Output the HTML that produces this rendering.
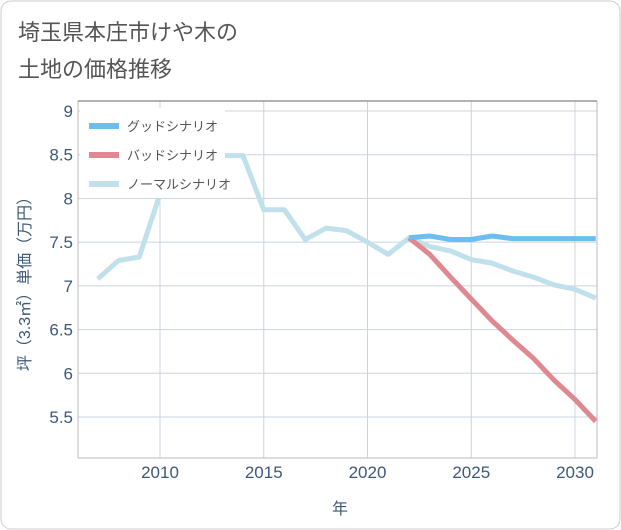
<!DOCTYPE html>
<html><head><meta charset="utf-8"><style>
body{margin:0;background:#fff;}
svg{display:block;font-family:"Liberation Sans","Noto Sans CJK JP",sans-serif;}
</style></head><body>
<svg width="621" height="530">
<rect x="1" y="1" width="619" height="528" rx="10" fill="#fff" stroke="#ccc"/>
<text x="18" y="40" font-size="22" fill="#555">埼玉県本庄市けや木の</text>
<text x="18" y="77" font-size="22" fill="#555">土地の価格推移</text>
<g id="grid"></g>
<g id="series"></g>
<g id="legend"></g>
<text x="340" y="514" font-size="16" fill="#3e5877" text-anchor="middle">年</text>
<text transform="translate(30,280) rotate(-90)" font-size="16" fill="#3e5877" text-anchor="middle">坪（3.3㎡）単価（万円）</text>
</svg>
<script>
const years=[2007,2008,2009,2010,2011,2012,2013,2014,2015,2016,2017,2018,2019,2020,2021,2022,2023,2024,2025,2026,2027,2028,2029,2030,2031];
const normalVals=[7.08,7.29,7.33,8.05,8.6,8.9,8.49,8.49,7.87,7.87,7.53,7.66,7.63,7.5,7.36,7.55,7.45,7.4,7.3,7.26,7.17,7.1,7.01,6.96,6.86];
const futureYears=[2022,2023,2024,2025,2026,2027,2028,2029,2030,2031];
const goodVals=[7.55,7.57,7.53,7.53,7.57,7.54,7.54,7.54,7.54,7.54];
const badVals=[7.55,7.36,7.1,6.85,6.6,6.38,6.17,5.92,5.7,5.45];
const yTicks=[5.5,6,6.5,7,7.5,8,8.5,9];
const xTicks=[2010,2015,2020,2025,2030];
const NS="http://www.w3.org/2000/svg";
const L=78,R=597,T=101,B=458;
const xs_=v=>160+(v-2010)*20.75;
const ys_=v=>111+(9-v)*87.43;
function mk(tag,attrs,parent){const e=document.createElementNS(NS,tag);for(const k in attrs)e.setAttribute(k,attrs[k]);parent.appendChild(e);return e;}
const grid=document.getElementById('grid');
yTicks.forEach(t=>{
 const l=mk('line',{x1:L,x2:R,y1:ys_(t),y2:ys_(t),stroke:'#c8d4e0','stroke-width':1},grid);
 
 
 const tx=mk('text',{x:L-5,y:ys_(t)+6,'font-size':17,fill:'#3e5877','text-anchor':'end'},grid);
 tx.textContent=String(t);
 
 
});
xTicks.forEach(t=>{
 const l=mk('line',{x1:xs_(t),x2:xs_(t),y1:T,y2:B,stroke:'#c8d4e0','stroke-width':1},grid);
 
 
 const tx=mk('text',{x:xs_(t),y:B+20,'font-size':17,fill:'#3e5877','text-anchor':'middle'},grid);
 tx.textContent=String(t);
 
 
});
const axPath=mk('path',{d:`M${L},${T}V${B}H${R}V${T}`,fill:'none',stroke:'#bbb','stroke-width':1},grid);


const topBorder=mk('line',{x1:L,x2:R,y1:T,y2:T,stroke:'#999','stroke-width':1.5},grid);


const ser=document.getElementById('series');
function drawLine(xarr,vs,color,name){
 const p=mk('polyline',{points:xarr.map((yr,i)=>xs_(yr)+','+ys_(vs[i])).join(' '),fill:'none',stroke:color,'stroke-width':5,'stroke-linejoin':'round'},ser);
 
 
}
drawLine(years,normalVals,'#c0e0ec','normal-scenario-line');
drawLine(futureYears,badVals,'#de8890','bad-scenario-line');
drawLine(futureYears,goodVals,'#6cbdf2','good-scenario-line');
const lg=document.getElementById('legend');
mk('rect',{x:80,y:108,width:145,height:90,fill:'#fff'},lg);
[['グッドシナリオ','#6cbdf2'],['バッドシナリオ','#de8890'],['ノーマルシナリオ','#c0e0ec']].forEach((d,i)=>{
 const yy=126+i*29;
 const s=mk('rect',{x:89,y:yy-3,width:30,height:6,fill:d[1]},lg);
 
 
 const t=mk('text',{x:127,y:yy+5,'font-size':13,fill:'#555'},lg);
 t.textContent=d[0];
 
 
});
</script>
</body></html>
